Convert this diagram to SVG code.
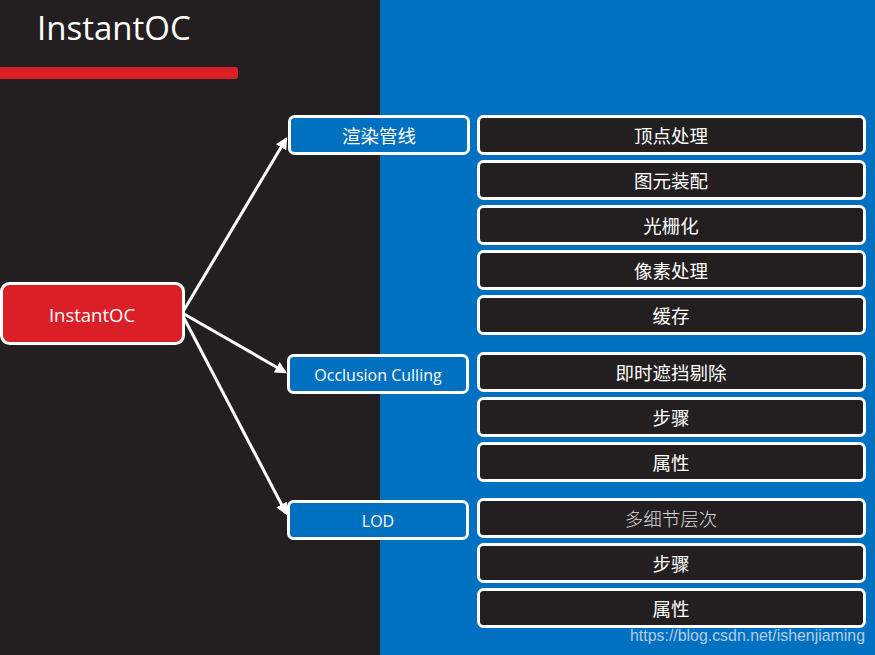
<svg xmlns="http://www.w3.org/2000/svg" width="875" height="655" viewBox="0 0 875 655">
<defs>
<style>
.t{font-family:"Open Sans","Noto Sans CJK SC",sans-serif;fill:#fff;text-anchor:middle;dominant-baseline:central}
.mid rect{fill:#0070c0;stroke:#fff;stroke-width:3}
.leaf rect{fill:#231f20;stroke:#fff;stroke-width:3}
.leaf text{font-size:18.5px}
.c{stroke:#fff;stroke-width:3;fill:none;marker-end:url(#ah)}
</style>
<marker id="ah" viewBox="0 0 10 10" refX="8" refY="5" markerWidth="4" markerHeight="4" orient="auto" markerUnits="strokeWidth">
<path d="M0,0 L10,5 L0,10 z" fill="#fff"/>
</marker>
</defs>
<rect x="0" y="0" width="380" height="655" fill="#231f20"/>
<rect x="380" y="0" width="495" height="655" fill="#0070c0"/>
<text x="37" y="40" font-family="Open Sans, sans-serif" font-size="33" fill="#fff">InstantOC</text>
<path d="M0,67 H235 a3,3 0 0 1 3,3 V76 a3,3 0 0 1 -3,3 H0 z" fill="#da1f26"/>
<g id="connectors">
<line class="c" x1="184" y1="310" x2="286" y2="139"/>
<line class="c" x1="184" y1="314" x2="285" y2="372"/>
<line class="c" x1="184" y1="318" x2="286" y2="513"/>
</g>
<g id="root"><rect x="1.5" y="283.5" width="182" height="60" rx="8" fill="#da1f26" stroke="#fff" stroke-width="3"/><text class="t" x="92" y="314" font-size="18.5">InstantOC</text></g>
<g id="n1" class="mid"><rect x="289.5" y="116.5" width="179" height="37" rx="5"/><text class="t" x="379" y="135" font-size="18.5">渲染管线</text></g>
<g id="n2" class="mid"><rect x="288.5" y="355.5" width="179" height="37" rx="5"/><text class="t" x="378" y="375" font-size="16">Occlusion Culling</text></g>
<g id="n3" class="mid"><rect x="288.5" y="501.5" width="179" height="37" rx="5"/><text class="t" x="378" y="521" font-size="16">LOD</text></g>
<g id="l1" class="leaf"><rect x="478.5" y="116.5" width="386" height="37" rx="5"/><text class="t" x="671" y="135">顶点处理</text></g>
<g id="l2" class="leaf"><rect x="478.5" y="161.5" width="386" height="37" rx="5"/><text class="t" x="671" y="180">图元装配</text></g>
<g id="l3" class="leaf"><rect x="478.5" y="206.5" width="386" height="37" rx="5"/><text class="t" x="671" y="225">光栅化</text></g>
<g id="l4" class="leaf"><rect x="478.5" y="251.5" width="386" height="37" rx="5"/><text class="t" x="671" y="270">像素处理</text></g>
<g id="l5" class="leaf"><rect x="478.5" y="296.5" width="386" height="37" rx="5"/><text class="t" x="671" y="315">缓存</text></g>
<g id="l6" class="leaf"><rect x="478.5" y="353.5" width="386" height="37" rx="5"/><text class="t" x="671" y="372">即时遮挡剔除</text></g>
<g id="l7" class="leaf"><rect x="478.5" y="398.5" width="386" height="37" rx="5"/><text class="t" x="671" y="417">步骤</text></g>
<g id="l8" class="leaf"><rect x="478.5" y="443.5" width="386" height="37" rx="5"/><text class="t" x="671" y="462">属性</text></g>
<g id="l9" class="leaf"><rect x="478.5" y="499.5" width="386" height="37" rx="5"/><text class="t" x="671" y="518" style="fill:#d9d9d9;font-weight:300">多细节层次</text></g>
<g id="l10" class="leaf"><rect x="478.5" y="544.5" width="386" height="37" rx="5"/><text class="t" x="671" y="563">步骤</text></g>
<g id="l11" class="leaf"><rect x="478.5" y="589.5" width="386" height="37" rx="5"/><text class="t" x="671" y="608">属性</text></g>
<text x="865" y="641" font-family="Liberation Sans, Arial, sans-serif" font-size="15.9" fill="#b4cde6" text-anchor="end">https://blog.csdn.net/ishenjiaming</text>
</svg>
